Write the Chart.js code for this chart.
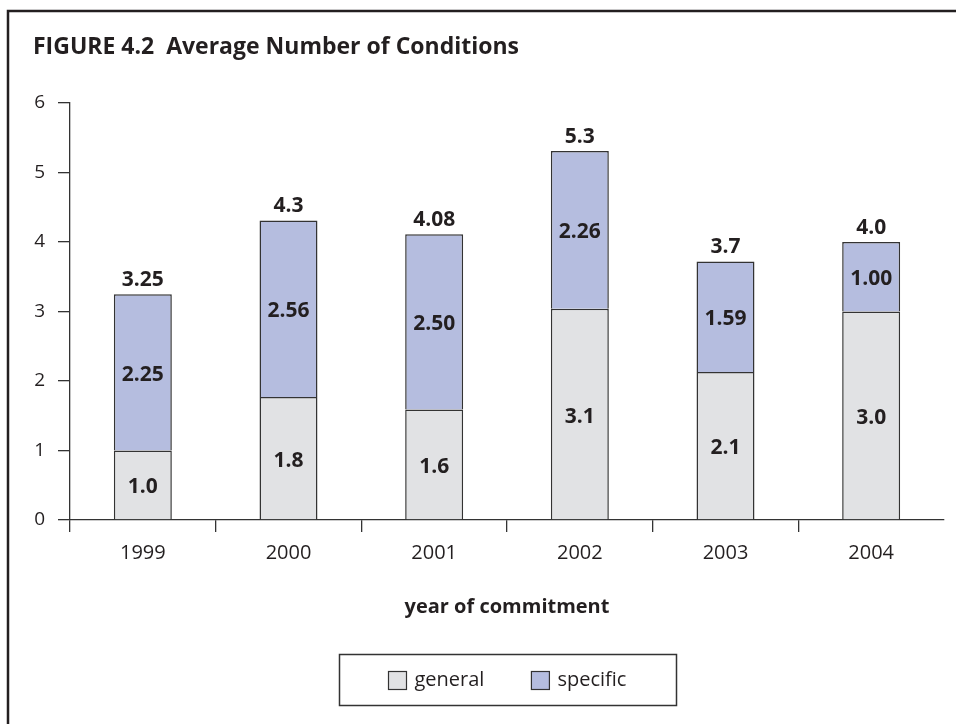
<!DOCTYPE html>
<html><head><meta charset="utf-8">
<script src="https://cdn.jsdelivr.net/npm/chart.js@4.4.1/dist/chart.umd.min.js"></script>
<style>html,body{margin:0;padding:0;background:#fff;}canvas{display:block;}</style>
</head><body>
<canvas id="c" width="956" height="724"></canvas>
<script>
const categories = ['1999', '2000', '2001', '2002', '2003', '2004'];
const generalValues = [1.0, 1.77, 1.59, 3.04, 2.13, 3.0];
const specificValues = [2.25, 2.54, 2.52, 2.27, 1.59, 1.0];
const generalLabels = ['1.0', '1.8', '1.6', '3.1', '2.1', '3.0'];
const specificLabels = ['2.25', '2.56', '2.50', '2.26', '1.59', '1.00'];
const totalLabels = ['3.25', '4.3', '4.08', '5.3', '3.7', '4.0'];
const yTicks = [0, 1, 2, 3, 4, 5, 6];
const seriesNames = ['general', 'specific'];
const titleText = 'FIGURE 4.2  Average Number of Conditions';
const xTitle = 'year of commitment';

const INK = '#231f20';
const LINE = '#333333';
const FONT = '"Open Sans", sans-serif';

const framePlugin = {
  id: 'frame',
  beforeDraw(chart) {
    const ctx = chart.ctx;
    ctx.save();
    ctx.fillStyle = '#fff';
    ctx.fillRect(0, 0, chart.width, chart.height);
    ctx.strokeStyle = INK;
    ctx.lineWidth = 2.5;
    ctx.beginPath();
    ctx.moveTo(8, chart.height);
    ctx.lineTo(8, 11);
    ctx.lineTo(chart.width, 11);
    ctx.stroke();
    ctx.font = 'bold 23px ' + FONT;
    ctx.fillStyle = INK;
    ctx.textBaseline = 'alphabetic';
    ctx.textAlign = 'left';
    ctx.fillText(titleText, 33, 54);
    ctx.restore();
  }
};

const labelPlugin = {
  id: 'barLabels',
  afterDatasetsDraw(chart) {
    const ctx = chart.ctx;
    ctx.save();
    ctx.font = 'bold 21px ' + FONT;
    ctx.fillStyle = INK;
    ctx.textAlign = 'center';
    ctx.textBaseline = 'middle';
    const inner = [generalLabels, specificLabels];
    const last = chart.data.datasets.length - 1;
    chart.data.datasets.forEach((ds, di) => {
      const meta = chart.getDatasetMeta(di);
      meta.data.forEach((bar, i) => {
        const p = bar.getProps(['x', 'y', 'base'], true);
        ctx.fillText(inner[di][i], p.x, (p.y + p.base) / 2 + 2.5);
        if (di === last) ctx.fillText(totalLabels[i], p.x, p.y - 14);
      });
    });
    ctx.restore();
  }
};

const legendPlugin = {
  id: 'boxLegend',
  afterDraw(chart) {
    const ctx = chart.ctx;
    const ca = chart.chartArea;
    const cx = (ca.left + ca.right) / 2;
    ctx.save();
    ctx.font = '20px ' + FONT;
    const sw = 18, gapIn = 8, gapOut = 47;
    const items = chart.data.datasets.map(ds => ({label: ds.label, color: ds.backgroundColor, w: ctx.measureText(ds.label).width}));
    const total = items.reduce((s, it) => s + sw + gapIn + it.w, 0) + gapOut * (items.length - 1);
    const boxW = 337, boxH = 51, boxTop = ca.bottom + 134.5;
    ctx.strokeStyle = LINE;
    ctx.lineWidth = 1.5;
    ctx.strokeRect(Math.round(cx - boxW / 2) + 0.5, boxTop, boxW, boxH);
    let x = Math.round(cx - total / 2) + 0.5;
    const cy = boxTop + 26;
    items.forEach(it => {
      ctx.fillStyle = it.color;
      ctx.fillRect(x, cy - sw / 2, sw, sw);
      ctx.lineWidth = 1.2;
      ctx.strokeRect(x, cy - sw / 2, sw, sw);
      ctx.fillStyle = INK;
      ctx.textAlign = 'left';
      ctx.textBaseline = 'middle';
      ctx.fillText(it.label, x + sw + gapIn, cy);
      x += sw + gapIn + it.w + gapOut;
    });
    ctx.restore();
  }
};

new Chart(document.getElementById('c'), {
  type: 'bar',
  data: {
    labels: categories,
    datasets: [
      {label: seriesNames[0], data: generalValues, backgroundColor: '#e1e2e4', borderColor: LINE, borderWidth: 1.5},
      {label: seriesNames[1], data: specificValues, backgroundColor: '#b5bddf', borderColor: LINE, borderWidth: 1.5}
    ]
  },
  options: {
    responsive: false,
    animation: false,
    devicePixelRatio: 1,
    layout: {padding: {top: 103, right: 12, bottom: 94, left: 0}},
    datasets: {bar: {categoryPercentage: 1, barPercentage: 0.398}},
    plugins: {legend: {display: false}, title: {display: false}, tooltip: {enabled: false}},
    scales: {
      x: {
        stacked: true,
        offset: true,
        grid: {offset: true, drawOnChartArea: false, drawTicks: true, tickLength: 12, lineWidth: 1.3,
               color: (c) => (c.index === undefined ? 'rgba(0,0,0,0)' : LINE)},
        border: {display: true, color: LINE, width: 1.3},
        ticks: {color: INK, font: {family: FONT, size: 20}, padding: 9, maxRotation: 0, autoSkip: false},
        title: {display: true, text: xTitle, color: INK, font: {family: FONT, size: 20, weight: 'bold'}, padding: {top: 0, bottom: 11}},
        afterFit: (s) => { s.height = 110; }
      },
      y: {
        stacked: true,
        min: 0,
        max: 6,
        grid: {drawOnChartArea: false, tickLength: 12, lineWidth: 1.3, color: LINE},
        border: {display: true, color: LINE, width: 1.3},
        ticks: {stepSize: 1, color: INK, font: {family: FONT, size: 19}, padding: 13},
        afterBuildTicks: (s) => { s.ticks = yTicks.map(v => ({value: v})); },
        afterFit: (s) => { s.width = 70; }
      }
    }
  },
  plugins: [framePlugin, labelPlugin, legendPlugin]
});
</script>
</body></html>
